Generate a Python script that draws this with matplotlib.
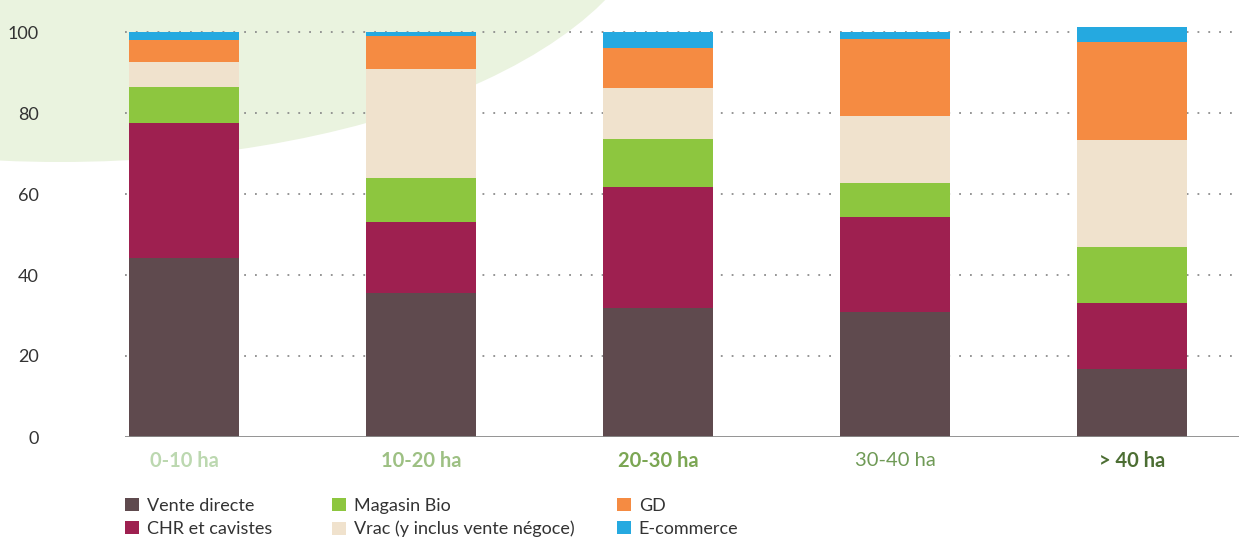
import numpy as np
import matplotlib.pyplot as plt
from matplotlib.patches import Ellipse

# Data (share of sales, %)
categories = ["0-10 ha", "10-20 ha", "20-30 ha", "30-40 ha", "> 40 ha"]
series_names = ["Vente directe", "CHR et cavistes", "Magasin Bio",
                "Vrac (y inclus vente négoce)", "GD", "E-commerce"]
vente_directe = [44.2, 35.5, 31.9, 30.9, 16.7]
chr_cavistes = [33.3, 17.6, 29.8, 23.4, 16.4]
magasin_bio = [8.9, 10.9, 11.9, 8.4, 13.8]
vrac = [6.2, 26.9, 12.6, 16.6, 26.4]
gd = [5.4, 8.1, 9.9, 19.0, 24.2]
e_commerce = [2.0, 1.0, 3.9, 1.7, 3.7]
y_ticks = [0, 20, 40, 60, 80, 100]

# Styles
series_colors = ["#5f4a4e", "#9e2050", "#8dc63f", "#f0e2cd", "#f58b42", "#25a9e0"]
cat_colors = ["#bcd8b0", "#9dc083", "#7ba653", "#6f9a56", "#4c6e33"]
cat_weights = ["bold", "bold", "bold", "normal", "bold"]

plt.rcParams["font.family"] = ["Lato", "DejaVu Sans"]

W, H = 1239, 537
fig = plt.figure(figsize=(W / 100, H / 100), dpi=100)

# light green background shape in the top-left corner
bg = Ellipse((60 / W, (H + 116) / H), 1200 / W, 556 / H,
             transform=fig.transFigure, facecolor="#eaf3df",
             edgecolor="none", zorder=-1)
fig.patches.append(bg)

# axes: baseline at pixel 437, 4.05 px per unit, left edge at 125
px_per_unit = 4.05
y_top = 102
ax_h = y_top * px_per_unit
ax = fig.add_axes([125 / W, (H - 437) / H, (W - 125) / W, ax_h / H])
ax.set_zorder(1)
ax.patch.set_alpha(0)

x = np.arange(len(categories))
bar_w = 110 / 237
values = [vente_directe, chr_cavistes, magasin_bio, vrac, gd, e_commerce]
bottom = np.zeros(len(categories))
handles = []
for name, vals, col in zip(series_names, values, series_colors):
    b = ax.bar(x, vals, bar_w, bottom=bottom, color=col, label=name,
               zorder=3, linewidth=0)
    handles.append(b)
    bottom += np.array(vals)

ax.set_xlim((125 - 184) / 237, (W - 184) / 237)
ax.set_ylim(0, y_top)

for yv in y_ticks[1:]:
    ax.axhline(yv, color="#8c8c8c", linestyle=(0, (1, 5)), linewidth=1.3,
               zorder=1)
ax.axhline(0, color="#8a8a8a", linewidth=2, zorder=4)

ax.set_yticks(y_ticks)
ax.set_yticklabels([str(v) for v in y_ticks], fontsize=13, color="#333333")
ax.tick_params(axis="y", length=0, pad=62)
ax.set_xticks([])
for s in ax.spines.values():
    s.set_visible(False)

for xi, lab, c, wgt in zip(x, categories, cat_colors, cat_weights):
    ax.text(xi, -24 / px_per_unit, lab, ha="center", va="center",
            fontsize=14.5, color=c, fontweight=wgt, clip_on=False)

# legend in three columns
col_x = [125, 332, 617]
for i, cx in enumerate(col_x):
    leg = fig.legend(handles[2 * i:2 * i + 2], series_names[2 * i:2 * i + 2],
                     loc="upper left", bbox_to_anchor=(cx / W, (H - 498) / H),
                     frameon=False, fontsize=13, handlelength=0.75,
                     handleheight=0.75, handletextpad=0.45, labelspacing=0.38,
                     borderpad=0, borderaxespad=0)
    for t in leg.get_texts():
        t.set_color("#333333")

fig.savefig("out.png", dpi=100)
